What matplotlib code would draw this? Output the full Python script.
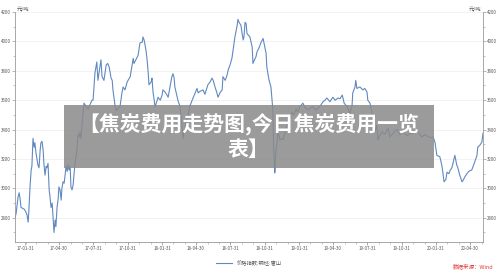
import pandas as pd
import matplotlib.pyplot as plt
import matplotlib.dates as mdates
from matplotlib.patches import Rectangle

plt.rcParams['font.family'] = ['Noto Sans CJK SC', 'DejaVu Sans']

# 价格数据 (元/吨)
dates = [
    '2017-01-04', '2017-01-07', '2017-01-12', '2017-01-15', '2017-01-18', '2017-01-20', '2017-01-28',
    '2017-02-02', '2017-02-05', '2017-02-08', '2017-02-10', '2017-02-13', '2017-02-16', '2017-02-18',
    '2017-02-21', '2017-02-24', '2017-02-26', '2017-03-01', '2017-03-04', '2017-03-06', '2017-03-09',
    '2017-03-12', '2017-03-14', '2017-03-17', '2017-03-20', '2017-03-22', '2017-03-25', '2017-03-28',
    '2017-03-30', '2017-04-02', '2017-04-05', '2017-04-07', '2017-04-10', '2017-04-13', '2017-04-15',
    '2017-04-18', '2017-04-21', '2017-04-23', '2017-04-26', '2017-04-29', '2017-05-01', '2017-05-04',
    '2017-05-07', '2017-05-09', '2017-05-12', '2017-05-15', '2017-05-17', '2017-05-20', '2017-05-23',
    '2017-05-25', '2017-05-28', '2017-05-31', '2017-06-02', '2017-06-05', '2017-06-08', '2017-06-10',
    '2017-06-13', '2017-06-16', '2017-06-18', '2017-06-21', '2017-06-24', '2017-06-26', '2017-06-29',
    '2017-07-02', '2017-07-04', '2017-07-07', '2017-07-12', '2017-07-18', '2017-07-23', '2017-07-28',
    '2017-07-31', '2017-08-05', '2017-08-10', '2017-08-13', '2017-08-19', '2017-08-21', '2017-08-24',
    '2017-08-29', '2017-09-04', '2017-09-08', '2017-09-12', '2017-09-17', '2017-09-20', '2017-09-22',
    '2017-09-28', '2017-10-02', '2017-10-06', '2017-10-11', '2017-10-16', '2017-10-19', '2017-10-24',
    '2017-10-30', '2017-11-07', '2017-11-15', '2017-11-17', '2017-11-23', '2017-11-28', '2017-12-03',
    '2017-12-09', '2017-12-11', '2017-12-14', '2017-12-19', '2017-12-22', '2017-12-25', '2017-12-27',
    '2018-01-02', '2018-01-04', '2018-01-07', '2018-01-10', '2018-01-12', '2018-01-18', '2018-01-20',
    '2018-01-26', '2018-01-31', '2018-02-02', '2018-02-08', '2018-02-13', '2018-02-16', '2018-02-21',
    '2018-02-26', '2018-03-01', '2018-03-04', '2018-03-06', '2018-03-12', '2018-03-14', '2018-03-20',
    '2018-03-24', '2018-03-28', '2018-03-30', '2018-04-05', '2018-04-10', '2018-04-15', '2018-04-21',
    '2018-04-29', '2018-05-04', '2018-05-07', '2018-05-12', '2018-05-20', '2018-05-25', '2018-05-31',
    '2018-06-02', '2018-06-08', '2018-06-13', '2018-06-16', '2018-06-21', '2018-06-26', '2018-06-29',
    '2018-07-04', '2018-07-10', '2018-07-12', '2018-07-18', '2018-07-23', '2018-07-26', '2018-07-31',
    '2018-08-05', '2018-08-08', '2018-08-13', '2018-08-19', '2018-08-21', '2018-08-24', '2018-08-29',
    '2018-09-01', '2018-09-04', '2018-09-06', '2018-09-09', '2018-09-12', '2018-09-14', '2018-09-17',
    '2018-09-22', '2018-09-28', '2018-09-30', '2018-10-03', '2018-10-08', '2018-10-11', '2018-10-16',
    '2018-10-21', '2018-10-27', '2018-10-29', '2018-11-04', '2018-11-06', '2018-11-12', '2018-11-17',
    '2018-11-20', '2018-11-22', '2018-11-24', '2018-11-27', '2018-11-28', '2018-11-30', '2018-12-03',
    '2018-12-06', '2018-12-11', '2018-12-16', '2018-12-19', '2018-12-24', '2019-01-01', '2019-01-07',
    '2019-01-12', '2019-01-17', '2019-01-23', '2019-01-28', '2019-02-02', '2019-02-10', '2019-02-16',
    '2019-02-24', '2019-03-01', '2019-03-09', '2019-03-14', '2019-03-19', '2019-03-28', '2019-04-05',
    '2019-04-10', '2019-04-15', '2019-04-23', '2019-05-01', '2019-05-07', '2019-05-15', '2019-05-20',
    '2019-05-26', '2019-05-31', '2019-06-08', '2019-06-15', '2019-06-21', '2019-06-23', '2019-06-29',
    '2019-07-01', '2019-07-04', '2019-07-12', '2019-07-20', '2019-07-25', '2019-07-31', '2019-08-02',
    '2019-08-08', '2019-08-13', '2019-08-16', '2019-08-21', '2019-08-26', '2019-08-29', '2019-09-03',
    '2019-09-09', '2019-09-17', '2019-09-25', '2019-09-30', '2019-10-08', '2019-10-13', '2019-10-19',
    '2019-10-27', '2019-11-04', '2019-11-14', '2019-11-22', '2019-11-30', '2019-12-08', '2019-12-14',
    '2019-12-24', '2020-01-01', '2020-01-09', '2020-01-15', '2020-01-23', '2020-01-28', '2020-02-02',
    '2020-02-10', '2020-02-15', '2020-02-18', '2020-02-21', '2020-02-26', '2020-02-29', '2020-03-05',
    '2020-03-08', '2020-03-13', '2020-03-16', '2020-03-21', '2020-03-26', '2020-03-29', '2020-04-03',
    '2020-04-09', '2020-04-11', '2020-04-17', '2020-04-25', '2020-04-30', '2020-05-05', '2020-05-13',
    '2020-05-19', '2020-05-21', '2020-05-27', '2020-06-01', '2020-06-04',
]
price = [
    2800, 2830, 2940, 2970, 2920, 2870, 2860,
    2840, 2820, 2770, 2850, 3010, 3125, 3150,
    3340, 3280, 3310, 3240, 3190, 3160, 3140,
    3260, 3310, 3320, 3260, 3170, 3090, 3150,
    3140, 3170, 2990, 2950, 2870, 2900, 2820,
    2700, 2785, 2740, 2870, 2930, 3010, 2990,
    2920, 3000, 3045, 3035, 3080, 3150, 3115,
    3160, 3125, 3150, 3010, 2990, 3025, 3090,
    3170, 3225, 3260, 3365, 3350, 3385, 3340,
    3445, 3510, 3580, 3560, 3540, 3570, 3600,
    3600, 3785, 3860, 3735, 3840, 3875, 3760,
    3735, 3840, 3850, 3825, 3750, 3735, 3670,
    3555, 3530, 3545, 3560, 3650, 3690, 3670,
    3725, 3760, 3885, 3850, 3880, 3905, 3990,
    3995, 4030, 4010, 3940, 3875, 3785, 3705,
    3725, 3750, 3650, 3600, 3555, 3600, 3620,
    3600, 3635, 3670, 3655, 3635, 3620, 3690,
    3760, 3780, 3750, 3690, 3620, 3600, 3555,
    3450, 3340, 3380, 3450, 3500, 3560, 3600,
    3650, 3680, 3650, 3660, 3670, 3640, 3690,
    3705, 3725, 3750, 3735, 3690, 3650, 3620,
    3650, 3670, 3760, 3735, 3770, 3805, 3840,
    3885, 3940, 4030, 4110, 4150, 4130, 4110,
    4055, 4010, 4030, 4130, 4120, 4055, 4045,
    4030, 3960, 3850, 3870, 3895, 3930, 3955,
    3990, 4020, 3995, 3920, 3825, 3735, 3690,
    3600, 3535, 3300, 3105, 3120, 3250, 3310,
    3385, 3330, 3340, 3330, 3375, 3445, 3480,
    3520, 3500, 3540, 3520, 3555, 3580, 3550,
    3535, 3545, 3555, 3540, 3535, 3560, 3590,
    3600, 3615, 3590, 3620, 3600, 3615, 3610,
    3635, 3580, 3555, 3510, 3560, 3650, 3690,
    3735, 3680, 3690, 3670, 3680, 3655, 3600,
    3580, 3510, 3445, 3385, 3430, 3330, 3360,
    3385, 3370, 3410, 3350, 3375, 3390, 3400,
    3365, 3385, 3360, 3370, 3375, 3395, 3385,
    3350, 3365, 3355, 3345, 3350, 3315, 3225,
    3215, 3160, 3110, 3045, 3060, 3110, 3100,
    3120, 3140, 3170, 3225, 3160, 3140, 3090,
    3045, 3050, 3080, 3110, 3120, 3125, 3180,
    3225, 3280, 3295, 3315, 3375,
]

tick_dates = ['2017-01-31', '2017-04-30', '2017-07-31', '2017-10-31', '2018-01-31', '2018-04-30',
              '2018-07-31', '2018-10-31', '2019-01-31', '2019-04-30', '2019-07-31', '2019-10-31',
              '2020-01-31', '2020-04-30']
y_ticks = [2800, 3000, 3200, 3400, 3600, 3800, 4000, 4200]

series_name = '价格指数:钢坯:唐山'
title = '【焦炭费用走势图,今日焦炭费用一览\n表】'

x = pd.to_datetime(dates)
xt = pd.to_datetime(tick_dates)

fig = plt.figure(figsize=(5, 2.73), dpi=100)
ax = fig.add_axes([0.03, 0.114, 0.936, 0.842])

ax.plot(x, price, color='#6189c0', linewidth=0.8, label=series_name)

ax.set_xlim(pd.Timestamp('2017-01-04'), pd.Timestamp('2020-06-04'))
ax.set_ylim(2636, 4200)

ax.set_xticks(xt)
ax.xaxis.set_major_formatter(mdates.DateFormatter('%y-%m-%d'))
ax.xaxis.set_minor_locator(mdates.MonthLocator())
ax.set_yticks(y_ticks)
ax.set_yticks(range(2700, 4200, 200), minor=True)
ax.grid(axis='y', color='#f0f0f0', linewidth=0.6)
ax.set_axisbelow(True)

ax.spines['top'].set_visible(False)
for s in ['left', 'bottom', 'right']:
    ax.spines[s].set_color('#9a9a9a')
    ax.spines[s].set_linewidth(0.6)

ax.tick_params(axis='both', which='major', labelsize=3.2, colors='#9a9a9a', labelcolor='#555555',
               length=2, width=0.5, pad=1)
ax.tick_params(axis='both', which='minor', colors='#9a9a9a', length=1.2, width=0.4)
ax.tick_params(axis='y', which='both', right=True, labelright=True)

ax.text(0.004, 1.0, '元/吨', transform=ax.transAxes, fontsize=3.8, color='#555555', va='bottom', ha='left')
ax.text(0.996, 1.0, '元/吨', transform=ax.transAxes, fontsize=3.8, color='#555555', va='bottom', ha='right')

ax.legend(loc='upper center', bbox_to_anchor=(0.5, -0.06), frameon=False, fontsize=3.8,
          handlelength=3, labelcolor='#555555')

fig.text(0.986, 0.012, '数据来源：Wind', color='#e03c3c', fontsize=4, style='italic', ha='right', va='bottom')

# 灰色遮罩标题
fig.patches.append(Rectangle((64 / 500, 1 - 168 / 273), 370 / 500, 63 / 273, transform=fig.transFigure,
                             facecolor='#8a8a8a', alpha=0.85, edgecolor='none', zorder=5))
fig.text(0.497, 1 - 137 / 273, title, color='white', fontsize=15, fontweight='bold', ha='center',
         va='center', linespacing=1.2, zorder=6)

fig.savefig('out.png', dpi=100)
